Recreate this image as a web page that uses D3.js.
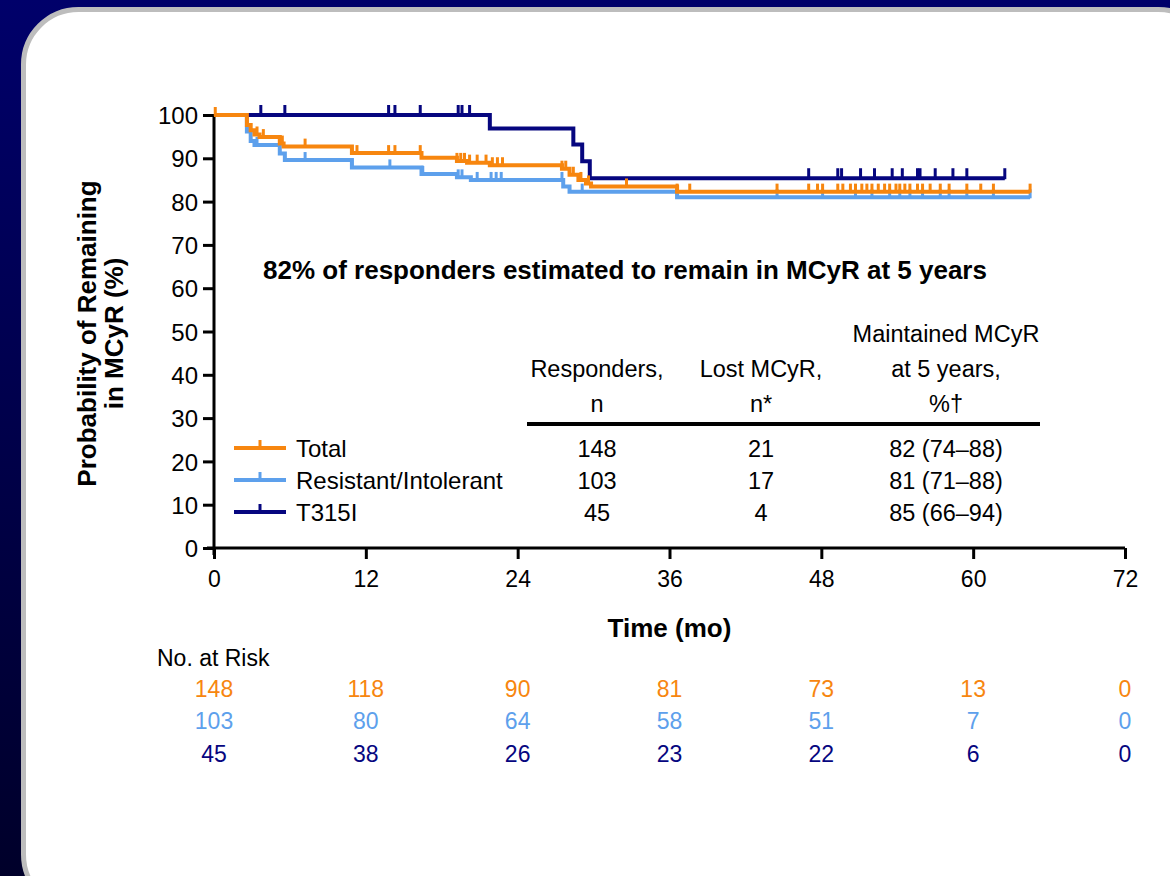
<!DOCTYPE html>
<html>
<head>
<meta charset="utf-8">
<script src="https://cdn.jsdelivr.net/npm/d3@7"></script>
<style>
  html, body { margin: 0; padding: 0; background: #00005e; }
  svg { display: block; }
  text { font-family: "Liberation Sans", Arial, Helvetica, sans-serif; fill: #000; }
</style>
</head>
<body>
<svg id="chart" width="1170" height="876"></svg>
<script>
// ---- Data -------------------------------------------------------------
const timeTicks = [0, 12, 24, 36, 48, 60, 72];
const probTicks = [0, 10, 20, 30, 40, 50, 60, 70, 80, 90, 100];

const seriesNames  = ["Total", "Resistant/Intolerant", "T315I"];
const seriesColors = ["#f7860f", "#5da0ec", "#06067f"];

// Kaplan–Meier steps: [month, % remaining after the step]
const totalSteps = [[0,100],[2.6,97.7],[2.9,96.5],[3.2,95.5],[3.6,94.9],[5.2,93.4],[5.5,92.7],
  [10.9,91.2],[16.4,90.1],[19.2,89.4],[20.0,89.0],[21.8,88.4],[27.5,87.6],[28.1,86.2],
  [28.8,85.0],[29.4,84.2],[29.8,83.5],[36.6,82.3]];
const totalEnd = 64.5;
const totalCensored = [0.1,2.6,3.4,3.9,5.2,5.4,7.2,10.9,11.3,13.8,14.3,16.3,19.2,19.5,19.8,20.2,
  20.8,21.5,22.0,22.4,22.8,27.5,27.8,28.4,29.0,29.6,32.6,36.6,37.6,44.5,47.0,47.7,48.1,49.3,49.7,
  50.3,50.7,51.2,51.6,52.0,52.5,53.0,53.4,53.9,54.2,54.6,55.0,55.6,56.0,56.6,57.4,58.1,59.5,60.6,
  61.6,64.5];

const resistantSteps = [[0,100],[2.6,96.2],[2.9,94.0],[3.2,93.1],[5.2,91.1],[5.6,89.6],[10.9,87.9],
  [16.4,86.4],[19.2,85.6],[20.3,85.0],[27.6,83.5],[28.1,82.3],[36.6,81.0]];
const resistantEnd = 64.5;
const resistantCensored = [2.8,3.4,7.2,10.9,13.9,16.5,19.3,19.6,20.8,21.9,22.3,22.7,27.5,29.1,36.6,
  44.5,48.1,50.7,52.0,53.4,54.2,55.0,56.0,57.4,58.1,59.5,61.6,64.5];

const t315iSteps = [[0,100],[21.8,96.9],[28.4,93.2],[29.1,89.3],[29.7,85.4]];
const t315iEnd = 62.5;
const t315iCensored = [3.7,5.6,13.8,14.3,16.3,19.3,19.6,20.2,47.0,49.3,49.6,51.1,52.2,53.6,54.4,
  55.6,55.8,57.0,58.4,59.5,62.5];

// Summary table
const tableHeaders = [["Responders,", "n"], ["Lost MCyR,", "n*"], ["Maintained MCyR", "at 5 years,", "%†"]];
const responders = [148, 103, 45];
const lostMCyR   = [21, 17, 4];
const maintained = ["82 (74–88)", "81 (71–88)", "85 (66–94)"];

// Number at risk
const atRiskTotal     = [148, 118, 90, 81, 73, 13, 0];
const atRiskResistant = [103, 80, 64, 58, 51, 7, 0];
const atRiskT315I     = [45, 38, 26, 23, 22, 6, 0];

const headline = "82% of responders estimated to remain in MCyR at 5 years";

// ---- Layout -------------------------------------------------------------
const svg = d3.select("#chart");
const W = 1170, H = 876;

const defs = svg.append("defs");
const grad = defs.append("linearGradient").attr("id", "bg").attr("x1", 0).attr("y1", 0).attr("x2", 0).attr("y2", 1);
grad.append("stop").attr("offset", "0%").attr("stop-color", "#00006a");
grad.append("stop").attr("offset", "100%").attr("stop-color", "#00002a");

svg.append("rect").attr("width", W).attr("height", H).attr("fill", "url(#bg)");
// white card
svg.append("rect")
  .attr("x", 23.5).attr("y", 9.5).attr("width", 1190).attr("height", 900)
  .attr("rx", 55).attr("ry", 55)
  .attr("fill", "#fff").attr("stroke", "#bdbdbd").attr("stroke-width", 5);

const x = d3.scaleLinear().domain([0, 72]).range([214, 1125]);
const y = d3.scaleLinear().domain([0, 100]).range([548, 115]);

// ---- Axes -------------------------------------------------------------
const yAxis = d3.axisLeft(y).tickValues(probTicks).tickSize(11).tickPadding(5);
const gy = svg.append("g").attr("transform", `translate(${x(0)},0)`).call(yAxis);
gy.select(".domain").attr("d", `M0,${y(100)}V${y(0) + 7}`);
gy.selectAll("line, path").attr("stroke", "#000").attr("stroke-width", 3);
gy.selectAll("text").style("font-size", "24px").attr("dy", "0.36em");

const xAxis = d3.axisBottom(x).tickValues(timeTicks).tickSize(11).tickPadding(6);
const gx = svg.append("g").attr("transform", `translate(0,${y(0)})`).call(xAxis);
gx.select(".domain").attr("d", `M${x(0) - 7},0H${x(72)}`);
gx.selectAll("line, path").attr("stroke", "#000").attr("stroke-width", 3);
gx.selectAll("text").style("font-size", "23px").attr("dy", "0.95em");

svg.append("text")
  .attr("transform", `translate(96,${(y(0) + y(100)) / 2 + 2}) rotate(-90)`)
  .attr("text-anchor", "middle")
  .style("font-size", "26px").style("font-weight", "bold")
  .selectAll("tspan").data(["Probability of Remaining", "in MCyR (%)"]).join("tspan")
  .attr("x", 0).attr("dy", (d, i) => i === 0 ? 0 : 27).text(d => d);

svg.append("text")
  .attr("x", x(36)).attr("y", 637)
  .attr("text-anchor", "middle")
  .style("font-size", "26px").style("font-weight", "bold")
  .text("Time (mo)");

// ---- Curves -------------------------------------------------------------
const series = [
  { name: seriesNames[1], color: seriesColors[1], steps: resistantSteps, end: resistantEnd, cens: resistantCensored, tick: 8 },
  { name: seriesNames[2], color: seriesColors[2], steps: t315iSteps, end: t315iEnd, cens: t315iCensored, tick: 10 },
  { name: seriesNames[0], color: seriesColors[0], steps: totalSteps, end: totalEnd, cens: totalCensored, tick: 8 }
];

function valueAt(steps, t) {
  let v = steps[0][1];
  for (const s of steps) if (s[0] <= t + 1e-9) v = s[1];
  return v;
}

const stepLine = d3.line()
  .x(d => x(d[0])).y(d => y(d[1]))
  .curve(d3.curveStepAfter);

series.forEach(s => {
  const pts = s.steps.concat([[s.end, s.steps[s.steps.length - 1][1]]]);
  const g = svg.append("g");
  g.append("path")
    .attr("d", stepLine(pts))
    .attr("fill", "none").attr("stroke", s.color)
    .attr("stroke-width", 4).attr("stroke-linejoin", "miter");
  g.selectAll("line").data(s.cens).join("line")
    .attr("x1", d => x(d)).attr("x2", d => x(d))
    .attr("y1", d => y(valueAt(s.steps, d)) + 1)
    .attr("y2", d => y(valueAt(s.steps, d)) - s.tick)
    .attr("stroke", s.color).attr("stroke-width", 3);
});

// ---- Headline -----------------------------------------------------------
svg.append("text")
  .attr("x", 625).attr("y", 279)
  .attr("text-anchor", "middle")
  .style("font-size", "26px").style("font-weight", "bold")
  .text(headline);

// ---- Table with legend ----------------------------------------------
const colX = [597, 761, 946];
const rowY = [457, 489, 521];

tableHeaders.forEach((lines, c) => {
  const n = lines.length;
  lines.forEach((t, i) => {
    svg.append("text")
      .attr("x", colX[c]).attr("y", 412 - (n - 1 - i) * 35)
      .attr("text-anchor", "middle")
      .style("font-size", "23.5px")
      .text(t);
  });
});

svg.append("line")
  .attr("x1", 527).attr("x2", 1040).attr("y1", 424).attr("y2", 424)
  .attr("stroke", "#000").attr("stroke-width", 4);

const tableCols = [responders, lostMCyR, maintained];
tableCols.forEach((col, c) => {
  svg.selectAll(null).data(col).join("text")
    .attr("x", colX[c]).attr("y", (d, i) => rowY[i])
    .attr("text-anchor", "middle")
    .style("font-size", "23.5px")
    .text(d => d);
});

seriesNames.forEach((name, i) => {
  const cy = rowY[i] - 9;
  svg.append("line").attr("x1", 234).attr("x2", 286).attr("y1", cy).attr("y2", cy)
    .attr("stroke", seriesColors[i]).attr("stroke-width", 4);
  svg.append("line").attr("x1", 260).attr("x2", 260).attr("y1", cy).attr("y2", cy - 8)
    .attr("stroke", seriesColors[i]).attr("stroke-width", 3);
  svg.append("text").attr("x", 296).attr("y", rowY[i])
    .style("font-size", "24px").text(name);
});

// ---- Number at risk -------------------------------------------------
svg.append("text").attr("x", 157).attr("y", 666)
  .style("font-size", "23px").text("No. at Risk");

const atRisk = [atRiskTotal, atRiskResistant, atRiskT315I];
const riskY = [697, 729, 762];
atRisk.forEach((row, r) => {
  svg.selectAll(null).data(row).join("text")
    .attr("x", (d, i) => x(timeTicks[i])).attr("y", riskY[r])
    .attr("text-anchor", "middle")
    .style("font-size", "23px")
    .style("fill", seriesColors[r])
    .text(d => d);
});
</script>
</body>
</html>
